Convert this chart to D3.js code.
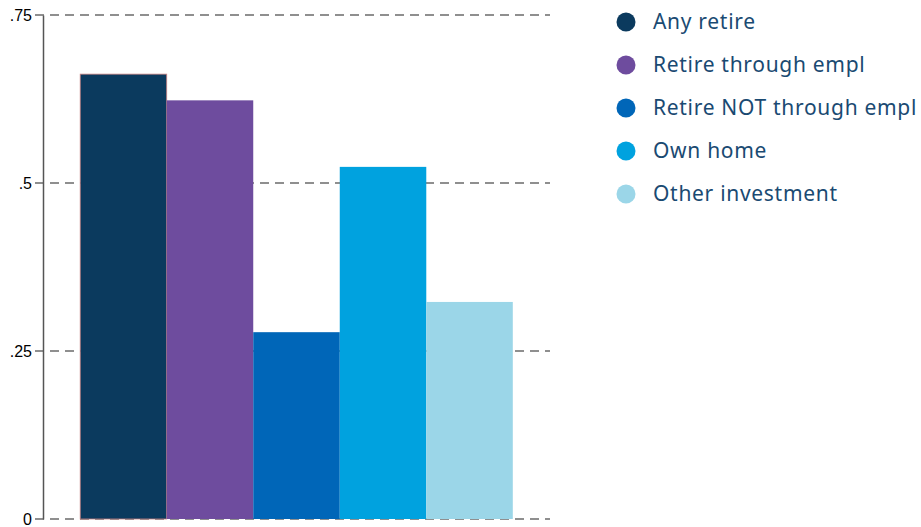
<!DOCTYPE html>
<html>
<head>
<meta charset="utf-8">
<script src="https://cdn.jsdelivr.net/npm/d3@7"></script>
<style>
  body { margin: 0; background: #fff; }
  svg { display: block; }
</style>
</head>
<body>
<svg width="921" height="527"></svg>
<script>
// data
var categories = ["Any retire", "Retire through empl", "Retire NOT through empl", "Own home", "Other investment"];
var values = [0.662, 0.623, 0.278, 0.524, 0.323];
var colors = ["#0b3a5e", "#6e4c9e", "#0066b8", "#00a2df", "#9bd6e8"];
var yTicks = [0, 0.25, 0.5, 0.75];
var yTickLabels = ["0", ".25", ".5", ".75"];

var svg = d3.select("svg");

// scales
var x = d3.scaleBand()
    .domain(categories)
    .range([43, 550])
    .paddingInner(0)
    .paddingOuter(0.43);

var y = d3.scaleLinear()
    .domain([0, 0.75])
    .range([519, 15]);

// gridlines (dashed)
svg.append("g")
  .selectAll("line")
  .data(yTicks)
  .enter().append("line")
    .attr("x1", 35)
    .attr("x2", 550)
    .attr("y1", function(d) { return y(d); })
    .attr("y2", function(d) { return y(d); })
    .attr("stroke", "#6b6b6b")
    .attr("stroke-width", 1.4)
    .attr("stroke-dasharray", "9,6");

// bars
svg.append("g")
  .selectAll("rect")
  .data(values)
  .enter().append("rect")
    .attr("x", function(d, i) { return x(categories[i]); })
    .attr("y", function(d) { return y(d); })
    .attr("width", x.bandwidth())
    .attr("height", function(d) { return y(0) - y(d); })
    .attr("fill", function(d, i) { return colors[i]; })
    .attr("stroke", function(d, i) { return i == 0 ? "#c98080" : "none"; })
    .attr("stroke-width", 0.8);

// y axis
var axis = svg.append("g")
    .attr("transform", "translate(43,0)")
    .call(d3.axisLeft(y).tickValues(yTicks).tickSize(0).tickPadding(11)
      .tickFormat(function(d, i) { return yTickLabels[i]; }));
axis.select(".domain")
    .attr("stroke", "#555")
    .attr("stroke-width", 1.5);
axis.selectAll("text")
    .style("font-family", "Liberation Sans, Arial, sans-serif")
    .style("font-size", "16px")
    .attr("fill", "#000");

// legend
var legend = svg.append("g")
  .selectAll("g")
  .data(categories)
  .enter().append("g")
    .attr("transform", function(d, i) { return "translate(626," + (22 + i * 43) + ")"; });

legend.append("circle")
    .attr("r", 9.5)
    .attr("fill", function(d, i) { return colors[i]; });

legend.append("text")
    .attr("x", 27)
    .attr("dy", "0.35em")
    .style("font-family", "Noto Sans, sans-serif")
    .style("font-size", "21px")
    .style("letter-spacing", "0.7px")
    .attr("fill", "#1a4a72")
    .text(function(d) { return d; });
</script>
</body>
</html>
